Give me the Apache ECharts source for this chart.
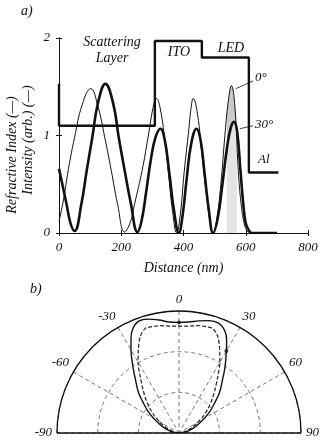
<!DOCTYPE html>
<html>
<head>
<meta charset="utf-8">
<script src="https://cdn.jsdelivr.net/npm/echarts@6/dist/echarts.min.js"></script>
<style>
html,body{margin:0;padding:0;background:#fff}
#chart{width:324px;height:441px}
</style>
</head>
<body>
<div id="chart"></div>
<script>
// a) refractive index profile (step) and field intensity for two angles
var indexProfile = [[0,1.53],[0,1.1],[308,1.1],[308,1.97],[459,1.97],[459,1.8],[610,1.8],[610,0.62],[705,0.62]];
var thinCurve = [[0,0.12],[15,0.35],[30,0.65],[50,0.98],[75,1.32],[102,1.48],[125,1.3],[147,0.98],[168,0.64],[188,0.3],[211,0.01],
  [230,0.12],[243,0.3],[267,0.64],[286,0.98],[305,1.33],[313,1.38],[325,1.28],[340,0.95],[352,0.6],[365,0.22],[378,0],
  [390,0.2],[402,0.62],[415,1.0],[425,1.3],[431,1.38],[445,1.22],[460,0.78],[475,0.36],[487,0.08],[495,0],
  [507,0.15],[520,0.5],[533,1.0],[545,1.38],[554,1.51],[565,1.3],[576,0.64],[585,0.3],[595,0.1],[605,0.02],[620,0],[700,0]];
var thickCurve = [[0,0.66],[12,0.48],[24,0.3],[37,0.1],[50,0.02],[72,0.3],[89,0.64],[107,0.98],[125,1.33],[149,1.53],
  [174,1.33],[192,0.98],[211,0.64],[231,0.3],[252,0.01],[265,0.12],[280,0.42],[295,0.75],[310,0.98],[326,1.07],
  [340,0.95],[355,0.6],[370,0.22],[385,0],[397,0.18],[410,0.55],[425,0.92],[442,1.07],[455,0.95],[468,0.6],[482,0.22],[495,0],
  [510,0.15],[525,0.5],[540,0.88],[552,1.08],[562,1.14],[572,1.05],[583,0.64],[592,0.3],[600,0.1],[610,0.03],[620,0],[700,0]];
var bandThin = [[540,1.22],[545,1.38],[554,1.51],[565,1.3],[570,1.0]];
var bandThick = [[540,0.88],[552,1.08],[562,1.14],[570,1.07]];
var xTicks = [0, 800, 200];
var yTicks = [0, 2, 1];

// b) angular emission patterns (radius in arb. units 0..3)
var lobeAngles = [-90,-85,-80,-75,-70,-65,-60,-55,-50,-45,-40,-35,-30,-27,-24,-20,-15,-10,-5,0,5,10,15,20,24,27,30,35,40,45,50,55,60,65,70,75,80,85,90];
var solidR = [0,0.08,0.18,0.29,0.41,0.54,0.72,0.93,1.14,1.41,1.65,1.97,2.36,2.6,2.8,2.92,2.9,2.82,2.74,2.72,2.74,2.8,2.86,2.87,2.76,2.58,2.33,1.97,1.65,1.41,1.14,0.93,0.72,0.54,0.41,0.29,0.18,0.08,0];
var dashedAngles = [-90,-85,-80,-75,-70,-65,-60,-55,-50,-45,-40,-35,-30,-26,-22,-18,-15,-10,-5,0,5,10,15,18,22,26,30,35,40,45,50,55,60,65,70,75,80,85,90];
var dashedR = [0,0.05,0.11,0.18,0.28,0.4,0.55,0.74,0.93,1.14,1.37,1.65,2.01,2.28,2.55,2.7,2.7,2.68,2.64,2.63,2.64,2.68,2.7,2.7,2.55,2.28,2.01,1.65,1.37,1.14,0.93,0.74,0.55,0.4,0.28,0.18,0.11,0.05,0];
var markedPoints = [[2.72,0],[2.33,30]];

function pairs(rs, angs) {
  var out = [];
  for (var i = 0; i < rs.length; i++) out.push([rs[i], angs[i]]);
  return out;
}

var serif = 'Liberation Serif';
var ink = '#111';
var txt = {fontFamily: serif, fontStyle: 'italic', color: ink};

var chart = echarts.init(document.getElementById('chart'));

var option = {
  animation: false,
  backgroundColor: '#fff',
  grid: {left: 59, top: 38, width: 249, height: 195},
  xAxis: [
    {type: 'value', min: xTicks[0], max: xTicks[1], interval: xTicks[2],
      axisLine: {lineStyle: {color: ink, width: 1}},
      axisTick: {inside: true, length: 3, lineStyle: {color: ink}},
      axisLabel: {fontFamily: serif, fontStyle: 'italic', fontSize: 13, color: ink, margin: 8},
      splitLine: {show: false},
      name: 'Distance (nm)', nameLocation: 'middle', nameGap: 28,
      nameTextStyle: {fontFamily: serif, fontStyle: 'italic', fontSize: 14, color: ink}},
    {type: 'value', position: 'top', min: xTicks[0], max: xTicks[1], interval: xTicks[2],
      axisLine: {lineStyle: {color: ink, width: 1}},
      axisTick: {inside: true, length: 3, lineStyle: {color: ink}},
      axisLabel: {show: false}, splitLine: {show: false}}
  ],
  yAxis: [
    {type: 'value', min: yTicks[0], max: yTicks[1], interval: yTicks[2],
      axisLine: {show: true, lineStyle: {color: ink, width: 1}},
      axisTick: {show: true, inside: true, length: 3, lineStyle: {color: ink}},
      axisLabel: {fontFamily: serif, fontStyle: 'italic', fontSize: 13, color: ink, margin: 9},
      splitLine: {show: false}},
    {type: 'value', position: 'right', min: yTicks[0], max: yTicks[1], interval: yTicks[2],
      axisLine: {show: true, lineStyle: {color: ink, width: 1}},
      axisTick: {show: true, inside: true, length: 3, lineStyle: {color: ink}},
      axisLabel: {show: false}, splitLine: {show: false}}
  ],
  polar: [
    {center: [179, 433], radius: 122},
    {center: [179, 433], radius: 122}
  ],
  angleAxis: [
    {polarIndex: 0, type: 'value', min: -90, max: 90, interval: 30, startAngle: 180, endAngle: 0, clockwise: true,
      axisLine: {show: false}, axisTick: {show: false},
      axisLabel: {fontFamily: serif, fontStyle: 'italic', fontSize: 13, color: ink, margin: 5},
      splitLine: {show: true, lineStyle: {color: '#555', width: 0.8, type: [4, 3]}}},
    {polarIndex: 1, type: 'value', min: -90, max: 90, interval: 180, startAngle: 180, endAngle: 0, clockwise: true,
      axisLine: {show: true, lineStyle: {color: ink, width: 1.3}}, axisTick: {show: false},
      axisLabel: {show: false},
      splitLine: {show: true, lineStyle: {color: ink, width: 1.3}}}
  ],
  radiusAxis: [
    {polarIndex: 0, type: 'value', min: 0, max: 3, interval: 1,
      axisLine: {show: false}, axisTick: {show: false}, axisLabel: {show: false},
      splitLine: {show: true, lineStyle: {color: '#555', width: 0.8, type: [4, 3]}}},
    {polarIndex: 1, type: 'value', min: 0, max: 3, interval: 3,
      axisLine: {show: false}, axisTick: {show: false}, axisLabel: {show: false},
      splitLine: {show: false}}
  ],
  series: [
    {type: 'line', data: bandThin, smooth: 0.4, symbol: 'none', lineStyle: {width: 0},
      areaStyle: {color: '#c6cccc', opacity: 1}, z: 1},
    {type: 'line', data: bandThick, smooth: 0.4, symbol: 'none', lineStyle: {width: 0},
      areaStyle: {color: '#dfe4e4', opacity: 1}, z: 1},
    {type: 'line', data: thinCurve, smooth: 0.45, symbol: 'none',
      lineStyle: {color: ink, width: 1},
      markLine: {silent: true, symbol: 'none', label: {show: false}, lineStyle: {color: ink, width: 0.8, type: 'solid'},
        data: [
          [{coord: [568, 1.48]}, {coord: [624, 1.56]}],
          [{coord: [581, 1.07]}, {coord: [623, 1.1]}]
        ]}, z: 3},
    {type: 'line', data: thickCurve, smooth: 0.45, symbol: 'none',
      lineStyle: {color: ink, width: 2.6}, z: 3},
    {type: 'line', data: indexProfile, symbol: 'none',
      lineStyle: {color: ink, width: 2.4}, z: 4},
    {type: 'line', coordinateSystem: 'polar', polarIndex: 0, data: pairs(dashedR, dashedAngles), smooth: 0.3, symbol: 'none',
      lineStyle: {color: '#222', width: 1.2, type: [4, 2]}, z: 3},
    {type: 'line', coordinateSystem: 'polar', polarIndex: 0, data: pairs(solidR, lobeAngles), smooth: 0.3, symbol: 'none',
      lineStyle: {color: ink, width: 1.4}, z: 4},
    {type: 'scatter', coordinateSystem: 'polar', polarIndex: 0, data: markedPoints, symbolSize: 4,
      itemStyle: {color: ink}, z: 5}
  ],
  graphic: [
    {type: 'text', left: 21, top: 4, style: {text: 'a)', font: 'italic 14px "Liberation Serif"', fill: ink}},
    {type: 'text', left: 30, top: 282, style: {text: 'b)', font: 'italic 14px "Liberation Serif"', fill: ink}},
    {type: 'text', x: 112, y: 50, style: {text: 'Scattering\nLayer', font: 'italic 14px "Liberation Serif"', fill: ink,
      align: 'center', verticalAlign: 'middle', lineHeight: 16}},
    {type: 'text', x: 179, y: 52, style: {text: 'ITO', font: 'italic 14px "Liberation Serif"', fill: ink, align: 'center', verticalAlign: 'middle'}},
    {type: 'text', x: 231, y: 48, style: {text: 'LED', font: 'italic 14px "Liberation Serif"', fill: ink, align: 'center', verticalAlign: 'middle'}},
    {type: 'text', x: 255, y: 78, style: {text: '0°', font: 'italic 13px "Liberation Serif"', fill: ink, verticalAlign: 'middle'}},
    {type: 'text', x: 255, y: 125, style: {text: '30°', font: 'italic 13px "Liberation Serif"', fill: ink, verticalAlign: 'middle'}},
    {type: 'text', x: 258, y: 160, style: {text: 'Al', font: 'italic 13px "Liberation Serif"', fill: ink, verticalAlign: 'middle'}},
    {type: 'text', x: 12, y: 155, rotation: Math.PI / 2,
      style: {text: 'Refractive Index (—)', font: 'italic 14px "Liberation Serif"', fill: ink, align: 'center', verticalAlign: 'middle'}},
    {type: 'text', x: 28, y: 140, rotation: Math.PI / 2,
      style: {text: 'Intensity (arb.) (—)', font: 'italic 14px "Liberation Serif"', fill: ink, align: 'center', verticalAlign: 'middle'}}
  ]
};

chart.setOption(option);
</script>
</body>
</html>
